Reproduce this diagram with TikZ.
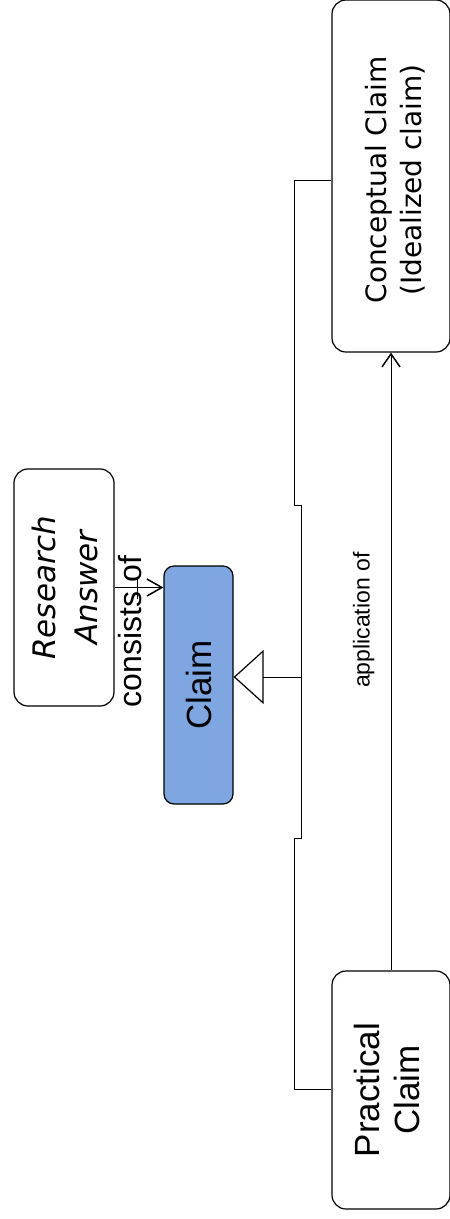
\documentclass[tikz,border=0pt]{standalone}
\usepackage{fontspec}
\setmainfont{Liberation Sans}
\newfontfamily\verdana{DejaVu Sans}
\usetikzlibrary{arrows.meta,calc}
\definecolor{claimblue}{RGB}{126,166,224}

\begin{document}
\begin{tikzpicture}[x=1pt,y=-1pt,
    box/.style={draw, line width=1.2pt, rounded corners=14pt, inner sep=0pt},
    conn/.style={line width=1pt},
    barb/.style={-{Straight Barb[length=13pt,width=18pt,line width=1.5pt]}}]
  \useasboundingbox (0,0) rectangle (450,1219);
  % classes
  \node[box, minimum width=118pt, minimum height=352pt] (concept) at (391,176)
    {\rotatebox{90}{\raisebox{-6pt}[\height][\depth]{\hspace{-4pt}\verdana\fontsize{28}{35}\selectfont\begin{tabular}{@{}c@{}}Conceptual Claim\\(Idealized claim)\end{tabular}\hspace{4pt}}}};
  \node[box, minimum width=118pt, minimum height=238pt] (practical) at (391,1090)
    {\rotatebox{90}{\fontsize{35}{40}\selectfont\begin{tabular}{@{}c@{}}Practical\\Claim\end{tabular}}};
  \node[box, fill=claimblue, rounded corners=10pt, minimum width=69pt, minimum height=238pt] (claim) at (198.5,685)
    {\rotatebox{90}{\fontsize{35}{40}\selectfont Claim}};
  \node[box, minimum width=100pt, minimum height=237pt] (answer) at (64,587.5)
    {\rotatebox{90}{\raisebox{-4pt}[\height][\depth]{\verdana\itshape\fontsize{31}{42}\selectfont\begin{tabular}{@{}c@{}}Research\\Answer\end{tabular}}}};
  % application of
  \draw[conn, barb] (practical.north) -- node[pos=0.567, left=16pt, inner sep=0pt] (applab)
    {\rotatebox{90}{\fontsize{23}{28}\selectfont application of}} (concept.south);
  % generalization
  \coordinate (j) at (301,677);
  \draw[conn] ([yshift=-4pt]concept.west) -| (294,505) -| (j);
  \draw[conn] ([yshift=1pt]practical.west) -| (294,838) -| (j);
  \draw[conn, -{Triangle[open, length=30pt, width=54pt, line width=1.2pt]}] (j) -- (j -| claim.east);
  % consists of
  \coordinate (m) at ($(answer.east)!.5!(answer.east -| claim.west)$);
  \draw[conn, -{Straight Barb[length=15pt,width=17pt,line width=1.5pt]}] (answer.east) -- (answer.east -| claim.west);
  \node[inner sep=0pt] (conslab) at ([shift={(-9,44)}]m)
    {\rotatebox{90}{\fontsize{32}{38}\selectfont consists of}};
  \draw[conn] ([shift={(-2,-11)}]m) -- ([shift={(-2,11)}]m);
\end{tikzpicture}
\end{document}
